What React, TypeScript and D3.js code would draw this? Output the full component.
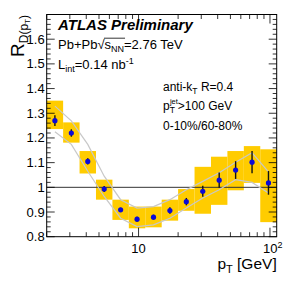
import React, { useRef, useEffect, useState } from "react";
import * as d3 from "d3";

// pT bin edges [GeV], 14 bins
const binEdges = [2, 2.667, 3.557, 4.743, 6.325, 8.434, 11.25, 15.0, 20.0, 26.67, 35.57, 47.43, 63.25, 84.34, 112.5];
// R_D(pT) central values and stat errors
const ratio = [1.27, 1.22, 1.105, 0.993, 0.909, 0.871, 0.879, 0.906, 0.942, 0.984, 1.029, 1.07, 1.102, 1.018];
const statErr = [0.022, 0.015, 0.013, 0.012, 0.008, 0.01, 0.01, 0.013, 0.015, 0.022, 0.031, 0.036, 0.045, 0.048];
// systematic boxes
const sysHigh = [1.351, 1.263, 1.147, 1.031, 0.95, 0.922, 0.922, 0.95, 0.993, 1.083, 1.124, 1.147, 1.167, 1.154];
const sysLow = [1.236, 1.181, 1.056, 0.95, 0.868, 0.834, 0.838, 0.865, 0.905, 0.893, 0.929, 0.988, 1.018, 0.859];
// grey band lines
const bandHigh = [1.329, 1.269, 1.174, 1.045, 0.95, 0.916, 0.922, 0.95, 0.99, 1.024, 1.059, 1.102, 1.14, 1.063];
const bandLow = [1.225, 1.174, 1.065, 0.963, 0.875, 0.841, 0.848, 0.875, 0.916, 0.957, 0.99, 1.031, 1.02, 0.977];

const yMajor = [0.8, 0.9, 1.0, 1.1, 1.2, 1.3, 1.4, 1.5, 1.6];
const xMajor = [10, 100];

const W = 291,
  H = 282;
const margin = { top: 14.5, right: 14.3, bottom: 45.3, left: 46.7 };
const FONT = "'Liberation Sans', Arial, Helvetica, sans-serif";

const App = () => {
  const sqrtRef = useRef<SVGTextElement>(null);
  const [bar, setBar] = useState<{ x1: number; x2: number; y: number } | null>(null);

  const x = d3
    .scaleLog()
    .domain([binEdges[0], binEdges[binEdges.length - 1]])
    .range([margin.left, W - margin.right]);
  const y = d3
    .scaleLinear()
    .domain([0.8, 1.7])
    .range([H - margin.bottom, margin.top]);

  const centers = binEdges.slice(0, -1).map((e, i) => Math.sqrt(e * binEdges[i + 1]));

  const yMinor = d3.range(0.8, 1.7001, 0.02).map((v) => +v.toFixed(2));
  const xMinor: number[] = [];
  [1, 10, 100].forEach((dec) => {
    for (let k = 2; k <= 9; k++) {
      const v = dec * k;
      if (v >= binEdges[0] && v <= binEdges[binEdges.length - 1]) xMinor.push(v);
    }
  });

  useEffect(() => {
    const t = sqrtRef.current;
    if (!t) return;
    const r = t.getExtentOfChar(5); // the radical
    const n = t.getExtentOfChar(8); // last N
    setBar({ x1: r.x + r.width - 0.5, x2: n.x + n.width + 1, y: r.y + 1.2 });
  }, []);

  const line = d3
    .line<number>()
    .x((_, i) => x(centers[i]))
    .y((d) => y(d));

  const x0 = margin.left,
    x1 = W - margin.right,
    y0 = H - margin.bottom,
    y1 = margin.top;

  return (
    <svg
      width={W}
      height={H}
      style={{ position: "absolute", left: 0, top: 0, background: "#fff" }}
      fontFamily={FONT}
    >
      {/* systematic boxes */}
      {centers.map((c, i) => (
        <rect
          key={"b" + i}
          x={x(binEdges[i])}
          width={x(binEdges[i + 1]) - x(binEdges[i])}
          y={y(sysHigh[i])}
          height={y(sysLow[i]) - y(sysHigh[i])}
          fill="#ffcc00"
        />
      ))}

      {/* unity line */}
      <line x1={x0} x2={x1} y1={y(1)} y2={y(1)} stroke="#333" strokeWidth={1} />

      {/* grey band */}
      <path d={line(bandHigh) || ""} fill="none" stroke="#c8c8c8" strokeWidth={1.2} />
      <path d={line(bandLow) || ""} fill="none" stroke="#c8c8c8" strokeWidth={1.2} />

      {/* points */}
      {centers.map((c, i) => (
        <g key={"p" + i}>
          <line
            x1={x(c)}
            x2={x(c)}
            y1={y(ratio[i] - statErr[i])}
            y2={y(ratio[i] + statErr[i])}
            stroke="#111"
            strokeWidth={1.4}
          />
          <circle cx={x(c)} cy={y(ratio[i])} r={2.6} fill="#0a0ad8" />
        </g>
      ))}

      {/* frame */}
      <rect x={x0} y={y1} width={x1 - x0} height={y0 - y1} fill="none" stroke="#000" strokeWidth={1} />

      {/* y ticks */}
      {yMinor.map((v) => {
        const maj = yMajor.some((m) => Math.abs(m - v) < 1e-6);
        const len = maj ? 8 : 4;
        return (
          <g key={"yt" + v}>
            <line x1={x0} x2={x0 + len} y1={y(v)} y2={y(v)} stroke="#000" strokeWidth={0.8} />
            <line x1={x1} x2={x1 - len} y1={y(v)} y2={y(v)} stroke="#000" strokeWidth={0.8} />
          </g>
        );
      })}
      {yMajor.map((v) => (
        <text key={"yl" + v} x={x0 - 2} y={y(v) + 4.5} fontSize={13} textAnchor="end">
          {String(+v.toFixed(1))}
        </text>
      ))}

      {/* x ticks */}
      {xMinor.map((v) => (
        <g key={"xm" + v}>
          <line x1={x(v)} x2={x(v)} y1={y0} y2={y0 - 4.5} stroke="#000" strokeWidth={0.8} />
          <line x1={x(v)} x2={x(v)} y1={y1} y2={y1 + 4.5} stroke="#000" strokeWidth={0.8} />
        </g>
      ))}
      {xMajor.map((v) => (
        <g key={"xM" + v}>
          <line x1={x(v)} x2={x(v)} y1={y0} y2={y0 - 9} stroke="#000" strokeWidth={0.8} />
          <line x1={x(v)} x2={x(v)} y1={y1} y2={y1 + 9} stroke="#000" strokeWidth={0.8} />
        </g>
      ))}
      <text x={x(10)} y={y0 + 16.5} fontSize={13} textAnchor="middle">
        10
      </text>
      <text x={x(100) - 7} y={y0 + 16.5} fontSize={13}>
        10<tspan dy={-5} fontSize={9}>2</tspan>
      </text>

      {/* axis titles */}
      <text x={x1} y={269} fontSize={15.5} textAnchor="end">
        p<tspan dy={4} fontSize={11}>T</tspan>
        <tspan dy={-4}> [GeV]</tspan>
      </text>
      <text transform="translate(24,57) rotate(-90)" fontSize={19}>
        R<tspan dy={4} fontSize={12}>D(p</tspan>
        <tspan dy={2} fontSize={8}>T</tspan>
        <tspan dy={-2} fontSize={12}>)</tspan>
      </text>

      {/* labels */}
      <text x={58} y={30} fontSize={15} fontWeight="bold" fontStyle="italic">
        ATLAS Preliminary
      </text>
      <text ref={sqrtRef} x={58} y={49} fontSize={13}>
        Pb+Pb√s<tspan dy={3} fontSize={9}>NN</tspan>
        <tspan dy={-3}>=2.76 TeV</tspan>
      </text>
      {bar && <line x1={bar.x1} x2={bar.x2} y1={bar.y} y2={bar.y} stroke="#000" strokeWidth={0.8} />}
      <text x={58} y={69} fontSize={13}>
        L<tspan dy={3} fontSize={9}>int</tspan>
        <tspan dy={-3}>=0.14 nb</tspan>
        <tspan dy={-5} fontSize={9}>-1</tspan>
      </text>

      <text x={163} y={91} fontSize={12}>
        anti-k<tspan dy={3} fontSize={8.5}>T</tspan>
        <tspan dy={-3}> R=0.4</tspan>
      </text>
      <text x={163} y={110} fontSize={12}>
        p<tspan dy={3} fontSize={8.5}>T</tspan>
        <tspan dx={-5} dy={-9} fontSize={7.5}>jet</tspan>
        <tspan dy={6}>&gt;100 GeV</tspan>
      </text>
      <text x={163} y={130} fontSize={12}>
        0-10%/60-80%
      </text>
    </svg>
  );
};

export default App;
